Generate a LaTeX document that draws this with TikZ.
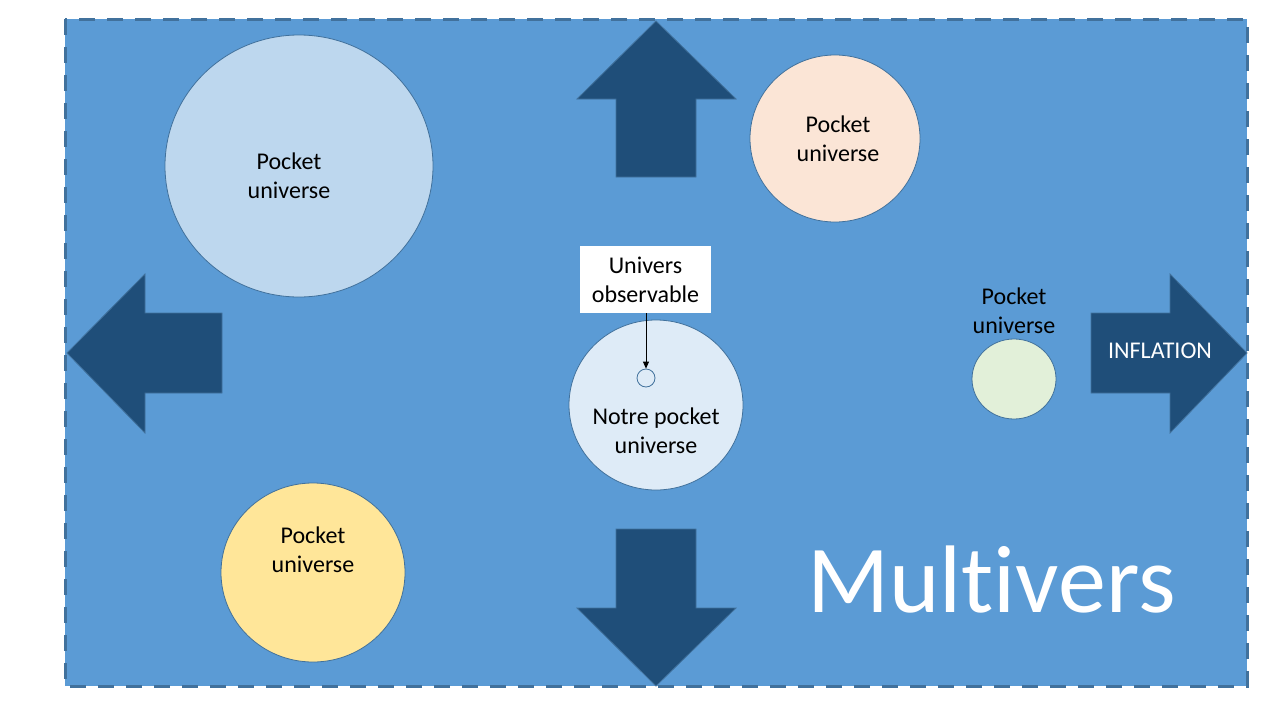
\documentclass[tikz,border=0pt]{standalone}
\usepackage{fontspec}
\setmainfont{Carlito}[Ligatures=CommonOff]
\usetikzlibrary{arrows.meta,shapes.geometric}
\definecolor{bgblue}{HTML}{5B9BD5}
\definecolor{edgeblue}{HTML}{41719C}
\definecolor{darkarrow}{HTML}{1F4E79}
\definecolor{cblue}{HTML}{BDD7EE}
\definecolor{cpeach}{HTML}{FBE5D6}
\definecolor{cgreen}{HTML}{E2F0D9}
\definecolor{cyellow}{HTML}{FFE699}
\definecolor{cnotre}{HTML}{DEEBF7}
\tikzset{
  bubble/.style={ellipse, draw=edgeblue, line width=0.8pt, inner sep=0pt},
  bigarrow/.style={fill=darkarrow, draw=edgeblue, line width=0.8pt},
  lbl/.style={align=center, font=\fontsize{24}{29}\selectfont, text=black, inner sep=0pt},
}
\begin{document}
\begin{tikzpicture}[x=1pt,y=-1pt]
\useasboundingbox (0,0) rectangle (1280,720);
% background
\fill[bgblue] (65,19) rectangle (1247,686);
\draw[edgeblue, line width=3pt, dash pattern=on 16pt off 12pt] (65,19) rectangle (1247,686);
% big arrows
\draw[bigarrow] (656,21) -- (736,99) -- (696,99) -- (696,177) -- (616,177) -- (616,99) -- (577,99) -- cycle;
\draw[bigarrow] (656,686) -- (736,608) -- (696,608) -- (696,529) -- (616,529) -- (616,608) -- (577,608) -- cycle;
\draw[bigarrow] (67,353) -- (145,274) -- (145,313) -- (222,313) -- (222,393) -- (145,393) -- (145,433) -- cycle;
\draw[bigarrow] (1247,353) -- (1170,274) -- (1170,313) -- (1091,313) -- (1091,393) -- (1170,393) -- (1170,433) -- cycle;
\node[lbl, text=white] (infl) at (1160,351) {INFLATION};
% circles
\node[bubble, fill=cblue, minimum width=268pt, minimum height=262pt] (c1) at (299,166) {};
\node[lbl] (t1) at (289,176) {Pocket\\universe};
\node[bubble, fill=cpeach, minimum width=170pt, minimum height=167pt] (c2) at (835,138.5) {};
\node[lbl] (t2) at (838,139) {Pocket\\universe};
\node[bubble, fill=cgreen, minimum width=84pt, minimum height=80pt] (c3) at (1014,379) {};
\node[lbl] (t3) at (1014,311) {Pocket\\universe};
\node[bubble, fill=cyellow, minimum width=184pt, minimum height=179pt] (c4) at (313,572.5) {};
\node[lbl] (t4) at (313,550) {Pocket\\universe};
\node[bubble, fill=cnotre, minimum width=174pt, minimum height=170pt] (c5) at (656,405) {};
\node[lbl] (t5) at (656,431) {Notre pocket\\universe};
\node[circle, draw=edgeblue, line width=0.8pt, fill=cnotre, minimum size=18pt, inner sep=0pt] (small) at (646,378) {};
% observable box
\node[lbl, fill=white, minimum width=131pt, minimum height=67pt] (obs) at (645.5,279.5) {Univers\\observable};
\draw[-{Triangle[length=7pt,width=6pt]}, line width=0.8pt, black] (small |- obs.south) -- (small.north);
% title
\node[text=white, font=\fontsize{96}{110}\selectfont, anchor=base west, inner sep=0pt] (title) at (807,612) {Multivers};
\end{tikzpicture}
\end{document}
